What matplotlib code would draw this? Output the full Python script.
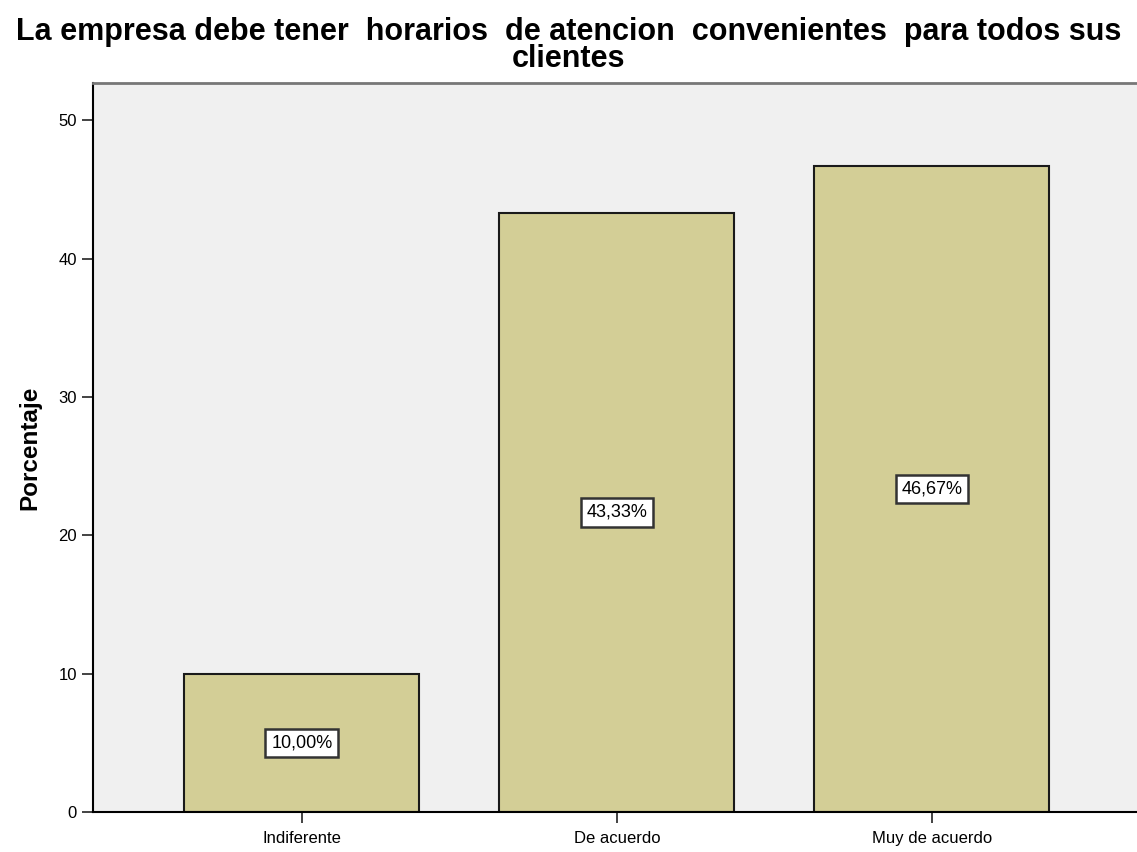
import matplotlib
matplotlib.use('Agg')
import matplotlib.pyplot as plt

# datos de la encuesta
categorias = ['Indiferente', 'De acuerdo', 'Muy de acuerdo']
porcentajes = [10.00, 43.33, 46.67]
etiquetas = ['10,00%', '43,33%', '46,67%']
yticks = [0, 10, 20, 30, 40, 50]

plt.rcParams['font.family'] = ['Liberation Sans', 'DejaVu Sans']

fig = plt.figure(figsize=(11.37, 8.52), dpi=100)
ax = fig.add_axes([0.0818, 0.047, 0.9182, 0.8556])
ax.set_facecolor('#F0F0F0')

x = list(range(len(categorias)))
ax.bar(x, porcentajes, width=0.746, color='#D3CE96', edgecolor='#1a1a1a', linewidth=1.5, zorder=2)

for xi, v, t in zip(x, porcentajes, etiquetas):
    ax.text(xi, v / 2, t, ha='center', va='center', fontsize=13, zorder=3,
            bbox=dict(boxstyle='square,pad=0.32', facecolor='white', edgecolor='#333333', linewidth=1.8))

ax.set_xlim(-0.663, 2.651)
ax.set_ylim(0, 52.7)
ax.set_xticks(x)
ax.set_xticklabels(categorias, fontsize=12)
ax.set_yticks(yticks)
ax.set_yticklabels([str(t) for t in yticks], fontsize=12)
ax.tick_params(axis='both', direction='out', length=8, width=1.2, color='#222222')
ax.tick_params(axis='x', pad=6)

ax.spines['left'].set_linewidth(1.5)
ax.spines['bottom'].set_linewidth(1.5)
ax.spines['top'].set_color('#777777')
ax.spines['top'].set_linewidth(2)
ax.spines['right'].set_visible(False)

ax.set_ylabel('Porcentaje', fontsize=17.5, fontweight='bold', labelpad=12)

fig.text(0.5, 0.98, 'La empresa debe tener  horarios  de atencion  convenientes  para todos sus\nclientes',
         ha='center', va='top', fontsize=22, fontweight='bold', linespacing=0.85)

fig.savefig('out.png', dpi=100)
